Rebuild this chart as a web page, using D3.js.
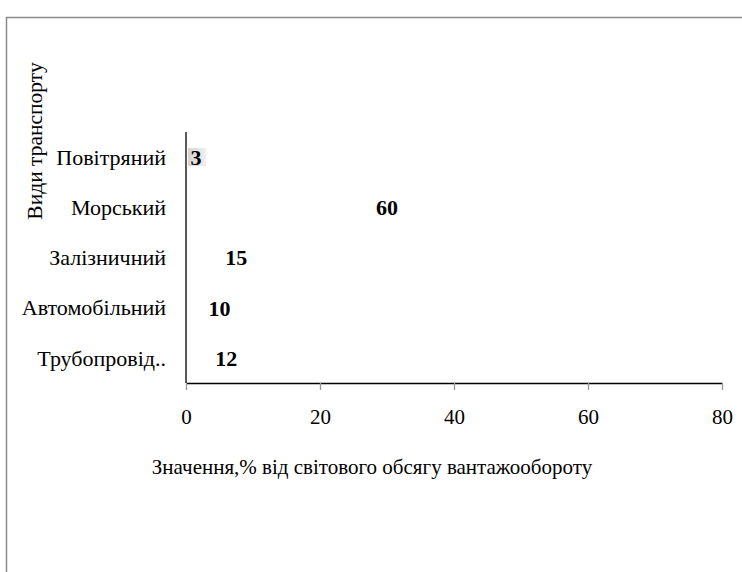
<!DOCTYPE html>
<html><head><meta charset="utf-8">
<script src="https://cdn.jsdelivr.net/npm/d3@7"></script>
<style>body{margin:0;background:#fff}svg{display:block}</style>
</head><body>
<svg id="c" width="742" height="572"></svg>
<script>
const categories = ["Повітряний","Морський","Залізничний","Автомобільний","Трубопровід.."];
const values = [3,60,15,10,12];
const xTicks = [0,20,40,60,80];
const xTitle = "Значення,% від світового обсягу вантажообороту";
const yTitle = "Види транспорту";

const svg = d3.select("#c");
const m={left:186,top:132,axisY:383};
const x=d3.scaleLinear().domain([0,80]).range([m.left,722]);
const y=d3.scaleBand().domain(categories).range([m.top,m.axisY]).paddingInner(0.64).paddingOuter(0.32);
const serif="'Liberation Serif','Times New Roman',serif";

// outer frame
svg.append("path").attr("d",`M6.5,572 V17.5 H742`).attr("fill","none").attr("stroke","#8a8a8a").attr("stroke-width",1.5);

const defs=svg.append("defs");
const g=defs.append("linearGradient").attr("id","gr").attr("x1","0").attr("x2","1").attr("y1","0").attr("y2","0");
g.append("stop").attr("offset","0").attr("stop-color","#d4d4d4");
g.append("stop").attr("offset","1").attr("stop-color","#f0f0f0");

// bars (white except the first, light gray)
svg.selectAll("rect.bar").data(values).join("rect").attr("class","bar")
  .attr("x",x(0)+2).attr("y",(d,i)=>y(categories[i]))
  .attr("width",d=>x(d)-x(0)-2).attr("height",y.bandwidth())
  .attr("fill",(d,i)=>i===0?"url(#gr)":"#ffffff");

// axes
const xa=svg.append("g").attr("transform",`translate(0,${m.axisY})`)
  .call(d3.axisBottom(x).tickValues(xTicks).tickSize(7).tickPadding(19).tickSizeOuter(0));
xa.select(".domain").attr("stroke","#000").attr("stroke-width",1.3);
xa.selectAll(".tick line").attr("stroke","#999").attr("stroke-width",1.3);
xa.selectAll("text").attr("font-family",serif).attr("font-size",21).attr("fill","#000");

svg.append("line").attr("x1",x(0)).attr("x2",x(0)).attr("y1",m.top).attr("y2",m.axisY).attr("stroke","#000").attr("stroke-width",1.3);

// category labels
svg.selectAll("text.cat").data(categories).join("text").attr("class","cat")
  .attr("x",166).attr("y",d=>y(d)+y.bandwidth()/2).attr("dy","0.35em")
  .attr("text-anchor","end").attr("font-family",serif).attr("font-size",22).attr("fill","#000")
  .text(d=>d);

// value labels
svg.selectAll("text.val").data(values).join("text").attr("class","val")
  .attr("x",d=>(x(d)+x(0))/2).attr("y",(d,i)=>y(categories[i])+y.bandwidth()/2).attr("dy","0.36em")
  .attr("text-anchor","middle").attr("font-family",serif).attr("font-weight","bold").attr("font-size",22).attr("fill","#000")
  .text(d=>d);

// titles
svg.append("text").attr("x",372).attr("y",474).attr("text-anchor","middle")
  .attr("font-family",serif).attr("font-size",21).text(xTitle);
svg.append("text").attr("transform","translate(42,141) rotate(-90)").attr("text-anchor","middle")
  .attr("font-family",serif).attr("font-size",21.5).text(yTitle);
</script>
</body></html>
